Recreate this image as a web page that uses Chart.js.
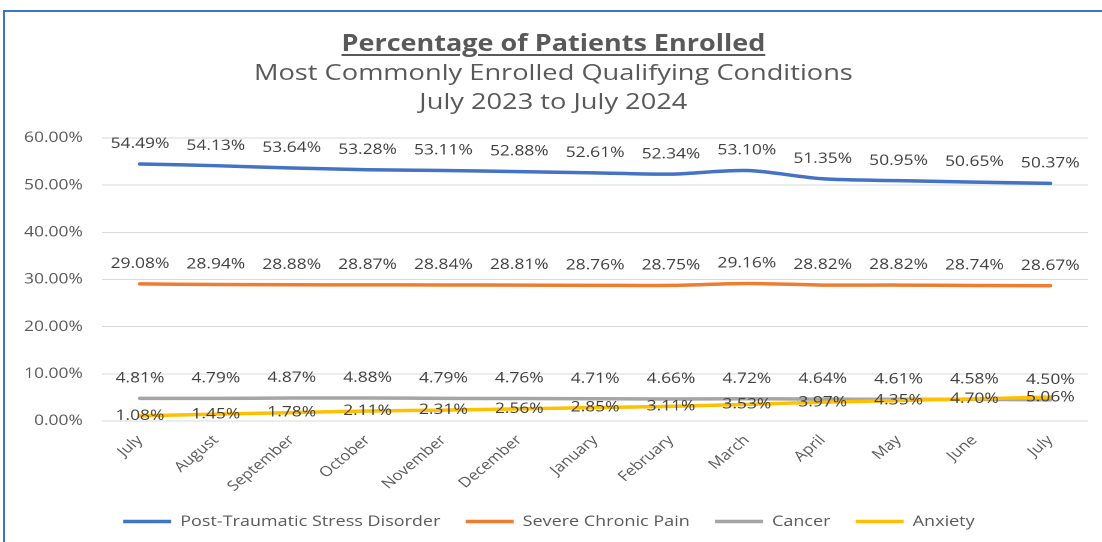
<!DOCTYPE html>
<html>
<head>
<meta charset="utf-8">
<script src="https://cdn.jsdelivr.net/npm/chart.js@4.4.1/dist/chart.umd.min.js"></script>
<style>
  html, body { margin: 0; padding: 0; background: #fff; }
  body { width: 1102px; height: 542px; position: relative; overflow: hidden; font-family: "Open Sans", sans-serif; }
  #frame { position: absolute; left: 3px; top: 10px; width: 1200px; height: 600px; border-left: 2px solid #3b78c2; border-top: 2px solid #3b78c2; box-sizing: border-box; }
  #stage { position: absolute; left: 0; top: 0; width: 918px; height: 542px; transform: scaleX(1.20044); transform-origin: 0 0; }
  #wrap { position: absolute; left: 0; top: 0; width: 918px; height: 542px; }
  .t { position: absolute; left: 0; width: 922px; text-align: center; color: #595959; white-space: nowrap; line-height: 30px; }
  #t1 { top: 28px; font-size: 22.5px; font-weight: bold; text-decoration: underline; text-decoration-thickness: 2px; text-underline-offset: 3px; }
  #t2 { top: 57px; font-size: 22.7px; }
  #t3 { top: 86px; font-size: 22.7px; }
</style>
</head>
<body>
<div id="frame"></div>
<div id="stage">
  <div id="wrap"><canvas id="c"></canvas></div>
  <div class="t" id="t1">Percentage of Patients Enrolled</div>
  <div class="t" id="t2">Most Commonly Enrolled Qualifying Conditions</div>
  <div class="t" id="t3">July 2023 to July 2024</div>
</div>
<script>
const months = ["July","August","September","October","November","December","January","February","March","April","May","June","July"];
const ptsd    = [54.49,54.13,53.64,53.28,53.11,52.88,52.61,52.34,53.10,51.35,50.95,50.65,50.37];
const pain    = [29.08,28.94,28.88,28.87,28.84,28.81,28.76,28.75,29.16,28.82,28.82,28.74,28.67];
const cancer  = [4.81,4.79,4.87,4.88,4.79,4.76,4.71,4.66,4.72,4.64,4.61,4.58,4.50];
const anxiety = [1.08,1.45,1.78,2.11,2.31,2.56,2.85,3.11,3.53,3.97,4.35,4.70,5.06];
const yTicks  = [0,10,20,30,40,50,60];

const labelPlugin = {
  id: 'valueLabels',
  afterDatasetsDraw(chart) {
    const ctx = chart.ctx;
    ctx.save();
    ctx.font = '14.5px "Open Sans"';
    ctx.fillStyle = '#404040';
    ctx.textAlign = 'center';
    ctx.textBaseline = 'middle';
    chart.data.datasets.forEach((ds, di) => {
      const meta = chart.getDatasetMeta(di);
      const off = ds.labelPos === 'center' ? 0 : -20;
      meta.data.forEach((pt, i) => {
        ctx.fillText(ds.data[i].toFixed(2) + '%', pt.x, pt.y + off);
      });
    });
    ctx.restore();
  }
};

new Chart(document.getElementById('c'), {
  type: 'line',
  data: {
    labels: months,
    datasets: [
      { label: 'Post-Traumatic Stress Disorder', data: ptsd, borderColor: '#4472C4', backgroundColor: '#4472C4', borderWidth: 3.5, order: 3 },
      { label: 'Severe Chronic Pain', data: pain, borderColor: '#ED7D31', backgroundColor: '#ED7D31', borderWidth: 3.5, order: 2 },
      { label: 'Cancer', data: cancer, borderColor: '#A5A5A5', backgroundColor: '#A5A5A5', borderWidth: 3.5, order: 1 },
      { label: 'Anxiety', data: anxiety, borderColor: '#FFC000', backgroundColor: '#FFC000', borderWidth: 3.5, order: 0, labelPos: 'center' }
    ]
  },
  options: {
    responsive: true,
    maintainAspectRatio: false,
    animation: false,
    devicePixelRatio: 2,
    layout: { padding: { top: 138, left: 8, right: 11.5, bottom: 3 } },
    elements: {
      line: { tension: 0.3, borderCapStyle: 'round', fill: false },
      point: { radius: 0, hoverRadius: 0 }
    },
    plugins: {
      legend: {
        position: 'bottom',
        labels: {
          usePointStyle: true,
          pointStyle: 'line',
          pointStyleWidth: 40,
          padding: 21,
          color: '#595959',
          font: { family: 'Open Sans', size: 15 },
          sort: (a, b) => a.datasetIndex - b.datasetIndex
        }
      },
      tooltip: { enabled: false },
      title: { display: false }
    },
    scales: {
      x: {
        offset: true,
        afterFit: s => { s.height = 72; },
        grid: { display: false },
        border: { display: false },
        ticks: { color: '#595959', font: { family: 'Open Sans', size: 14 }, minRotation: 45, maxRotation: 45, padding: 3, autoSkip: false }
      },
      y: {
        min: 0, max: 60,
        afterFit: s => { s.width = 77; },
        afterBuildTicks: s => { s.ticks = yTicks.map(v => ({ value: v })); },
        grid: { color: '#d9d9d9', lineWidth: 1, drawTicks: false },
        border: { display: false },
        ticks: { color: '#595959', font: { family: 'Open Sans', size: 14.5 }, padding: 16, callback: v => v.toFixed(2) + '%' }
      }
    }
  },
  plugins: [labelPlugin]
});
</script>
</body>
</html>
